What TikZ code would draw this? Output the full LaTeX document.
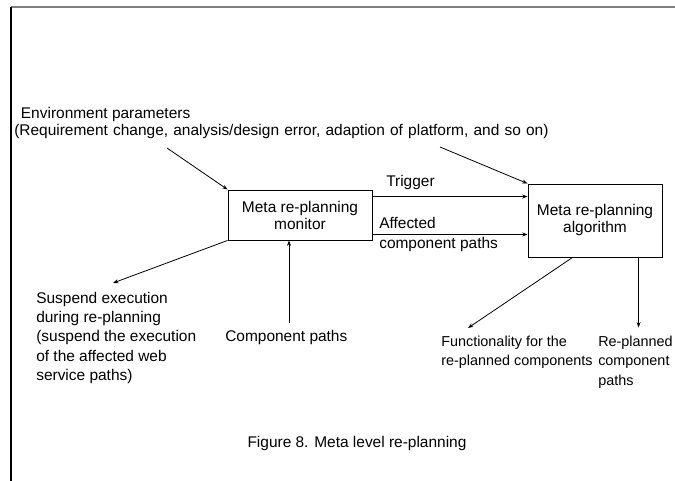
\documentclass[tikz,border=0pt]{standalone}
\usepackage{fontspec}
\setmainfont{Liberation Sans}
\usetikzlibrary{arrows.meta,calc}
\begin{document}
\begin{tikzpicture}[x=0.75pt,y=-0.75pt,
  txt/.style={inner sep=0pt, align=left, font=\fontsize{11.6}{14.5}\selectfont},
  small/.style={txt, font=\fontsize{10.8}{14.5}\selectfont},
  box/.style={draw, line width=0.7pt, inner sep=0pt, align=center,
    font=\fontsize{11.6}{12.75}\selectfont},
  arr/.style={line width=0.6pt, -{Stealth[length=4pt,width=3pt]}}]
\useasboundingbox (0,0) rectangle (675,481);
% page frame
\draw[gray, line width=1.5pt] (11,7) -- (675,7);
\draw[line width=0.9pt] (11,7) -- (11,481);

% process boxes
\node[box, minimum width=108pt, minimum height=37.5pt] (mon) at (300,215)
  {Meta re-planning\\monitor};
\node[box, minimum width=100.5pt, minimum height=54.75pt] (alg) at (595,220.5)
  {Meta re-planning\\algorithm};

% labels
\node[txt, anchor=west, font=\fontsize{11.6}{12.75}\selectfont] (env) at (14,123.5)
  {\hspace*{5pt}Environment parameters\\\spaceskip=3.9pt(Requirement change, analysis/design error, adaption of platform, and so on)};
\node[txt, anchor=west] (trig) at (386,183) {Trigger};
\node[txt, anchor=west] (aff) at (379,234.5) {Affected\\component paths};
\node[txt, anchor=west] (susp) at (36,338)
  {Suspend execution\\during re-planning\\(suspend the execution\\of the affected web\\service paths)};
\node[txt, anchor=west] (comp) at (225,338) {Component paths};
\node[small, anchor=west] (func) at (441,352.5) {Functionality for the\\re-planned components};
\node[small, anchor=west] (repl) at (598,362) {Re-planned\\component\\paths};
\node[txt] (cap) at (357,443) {Figure 8. Meta level re-planning};

% connector end points
\coordinate (envA) at (167,148);
\coordinate (envB) at (440,147);
\coordinate (trigS) at ($(mon.north east)+(0,7)$);
\coordinate (affS) at ($(mon.south east)+(0,-6)$);
\coordinate (suspE) at (113,283);
\coordinate (compS) at (289,323);
\coordinate (funS) at ($(alg.south west)+(45,0)$);
\coordinate (funE) at (468,328);
\coordinate (repS) at ($(alg.south west)+(111,0)$);
\coordinate (repE) at ($(repS)+(0,70)$);

% connectors
\draw[arr] (envA) -- (mon.north west);
\draw[arr] (envB) -- (alg.north west);
\draw[arr] (trigS) -- (trigS -| alg.west);
\draw[arr] (affS) -- (affS -| alg.west);
\draw[arr] (mon.south west) -- (suspE);
\draw[arr] (compS) -- (compS |- mon.south);
\draw[arr] (funS) -- (funE);
\draw[arr] (repS) -- (repE);
\end{tikzpicture}
\end{document}
